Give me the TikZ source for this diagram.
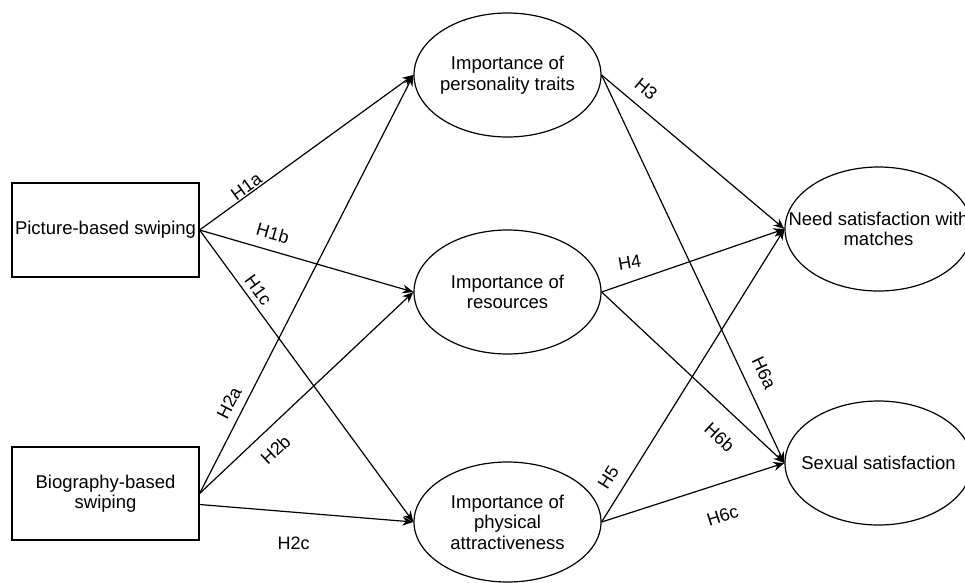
\documentclass[tikz,border=0pt]{standalone}
\usepackage{fontspec}
\setmainfont{Liberation Sans}
\usetikzlibrary{arrows.meta,shapes.geometric}
\begin{document}
\begin{tikzpicture}[x=1pt,y=-1pt,
  box/.style={draw, line width=1.2pt, rectangle, minimum width=187pt, minimum height=94pt, inner sep=0pt, align=center, font=\fontsize{18.5}{20.5}\selectfont},
  oval/.style={draw, line width=1.2pt, ellipse, minimum width=187pt, minimum height=124pt, inner sep=0pt},
  txt/.style={align=center, font=\fontsize{18.5}{20.5}\selectfont},
  arr/.style={line width=1.2pt, -{Stealth[length=11pt,width=9pt]}},
  hl/.style={font=\fontsize{18}{20}\selectfont, inner sep=1pt}]
\clip (0,0) rectangle (965,582);
\fill[white] (0,0) rectangle (965,582);

\node[box] (pic) at (105.5,230) {Picture-based swiping};
\node[box, minimum height=93pt] (bio) at (105.5,493.5) {Biography-based\\swiping};
\node[oval, label={[txt]center:{Importance of\\personality traits}}] (per) at (507.5,75) {};
\node[oval, label={[txt]center:{Importance of\\resources}}] (res) at (507.5,292) {};
\node[oval, minimum height=120pt, label={[txt]center:{Importance of\\physical\\attractiveness}}] (phy) at (507.5,522) {};
\node[oval, label={[txt]center:{Need satisfaction with\\matches}}] (need) at (878.5,229) {};
\node[oval, label={[txt]center:{Sexual satisfaction}}] (sex) at (878.5,463) {};

\coordinate (bio2) at ([yshift=-11pt]bio.east);

\draw[arr] (pic.east) -- node[hl, sloped, above, pos=0.24] {H1a} (per.west);
\draw[arr] (pic.east) -- node[hl, sloped, above=9pt, pos=0.32] {H1b} (res.west);
\draw[arr] (pic.east) -- node[hl, sloped, above=4pt, pos=0.23] {H1c} (phy.west);
\draw[arr] (bio.east) -- node[hl, sloped, above=7pt, pos=0.2] {H2a} (per.west);
\draw[arr] (bio.east) -- node[hl, sloped, below=12pt, pos=0.29] {H2b} (res.west);
\draw[arr] (bio2) -- node[hl, below=23pt, pos=0.44] {H2c} (phy.west);
\draw[arr] (per.east) -- node[hl, sloped, above=10pt, pos=0.18] {H3} (need.west);
\draw[arr] (res.east) -- node[hl, above=12pt, pos=0.16, rotate=10] {H4} (need.west);
\draw[arr] (phy.east) -- node[hl, sloped, above=10pt, pos=0.12] {H5} (need.west);
\draw[arr] (per.east) -- node[hl, sloped, above=12pt, pos=0.79] {H6a} (sex.west);
\draw[arr] (res.east) -- node[hl, sloped, below=17pt, pos=0.74] {H6b} (sex.west);
\draw[arr] (phy.east) -- node[hl, sloped, below=23pt, pos=0.61] {H6c} (sex.west);
\end{tikzpicture}
\end{document}
